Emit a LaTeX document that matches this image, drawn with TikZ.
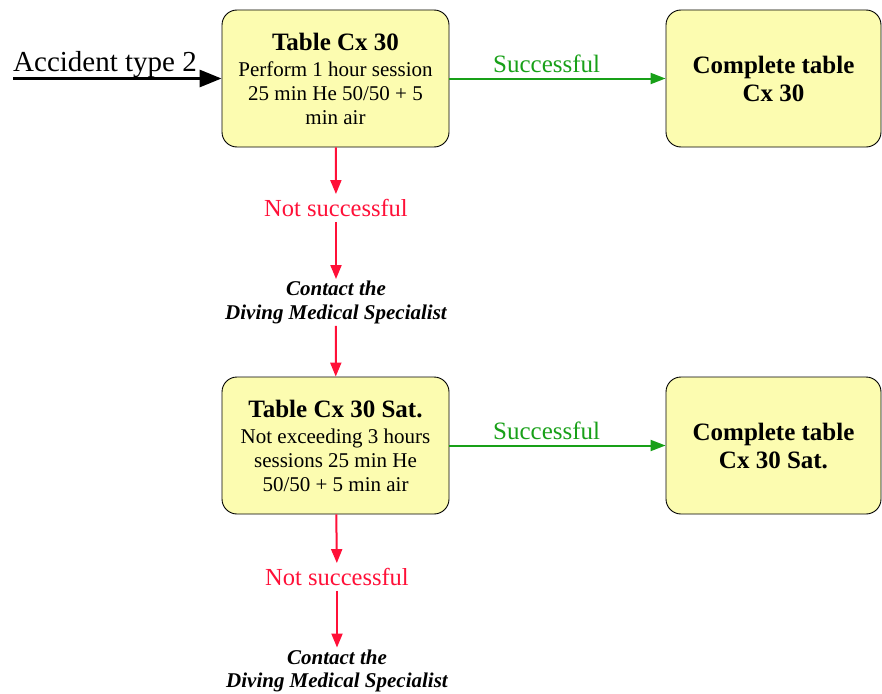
\documentclass[tikz,border=0pt]{standalone}
\usepackage{fontspec}
\setmainfont{Liberation Serif}
\usetikzlibrary{arrows.meta}
\definecolor{boxyellow}{RGB}{252,252,176}
\definecolor{okgreen}{RGB}{24,160,24}
\definecolor{failred}{RGB}{255,16,56}
\begin{document}
\begin{tikzpicture}[
  x=1pt, y=-1pt,
  box/.style={
    draw=black,
    line width=0.9pt,
    fill=boxyellow,
    rounded corners=15pt,
    align=center,
    minimum height=137pt,
    inner sep=2pt,
    font=\fontsize{21}{24}\selectfont
  },
  title/.style={font=\fontsize{25}{28}\selectfont\bfseries},
  entry/.style={-{Triangle[length=22pt,width=17pt]}, line width=3pt},
  ok/.style={-{Triangle[length=15pt,width=11pt]}, line width=2pt, okgreen},
  fail/.style={-{Triangle[length=14pt,width=11pt]}, line width=2pt, failred},
  failtext/.style={text=failred, font=\fontsize{24.5}{26}\selectfont, inner sep=5pt},
  contact/.style={align=center, font=\fontsize{21}{23.5}\selectfont\bfseries\itshape, inner sep=2pt}
]
\useasboundingbox (0,0) rectangle (882,693);

\node[box, minimum width=227pt] (cx30) at (335.5,78.5)
  {{\fontsize{25}{27}\selectfont\bfseries Table Cx 30}\\[2pt]
   Perform 1 hour session\\25 min He 50/50 + 5\\min air};
\node[box, title, minimum width=215pt] (done1) at (773.5,78.5) {Complete table\\Cx 30};
\node[failtext] (fail1) at (336,208) {Not successful};
\node[contact] (contact1) at (336,302.5) {Contact the\\Diving Medical Specialist};
\node[box, minimum width=227pt] (sat) at (335.5,445.5)
  {{\fontsize{25}{27}\selectfont\bfseries Table Cx 30 Sat.}\\[2pt]
   Not exceeding 3 hours\\sessions 25 min He\\50/50 + 5 min air};
\node[box, title, minimum width=215pt] (done2) at (773.5,445.5) {Complete table\\Cx 30 Sat.};
\node[failtext] (fail2) at (337,577) {Not successful};
\node[contact] (contact2) at (337,671) {Contact the\\Diving Medical Specialist};

\node[anchor=base west, inner sep=0pt, font=\fontsize{29}{30}\selectfont] (acc) at (13,71) {Accident type 2};
\coordinate (start) at (13,78.5);

\draw[entry] (start) -- (cx30.west);
\draw[ok] (cx30) -- node[above=1pt, pos=0.45, font=\fontsize{25}{26}\selectfont] (ok1) {Successful} (done1);
\draw[fail] (cx30) -- (fail1);
\draw[fail] (fail1) -- (contact1);
\draw[fail] (contact1) -- (sat);
\draw[ok] (sat) -- node[above=1pt, pos=0.45, font=\fontsize{25}{26}\selectfont] (ok2) {Successful} (done2);
\draw[fail] (sat) -- (fail2);
\draw[fail] (fail2) -- (contact2);
\end{tikzpicture}
\end{document}
